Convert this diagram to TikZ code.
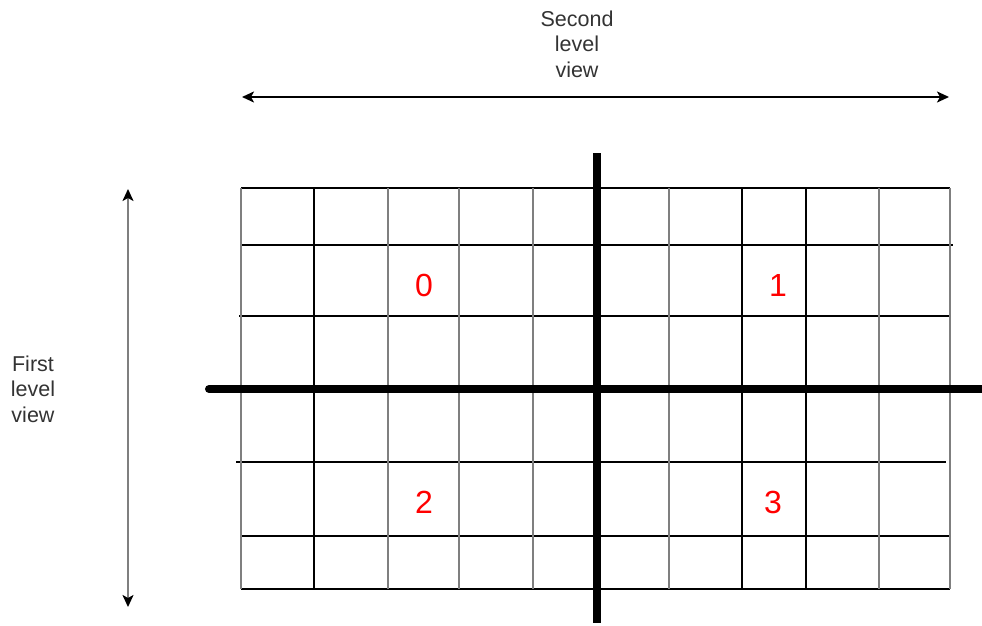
\documentclass[tikz,border=0pt]{standalone}
\usepackage{fontspec}
\setmainfont{Liberation Sans}
\usetikzlibrary{arrows.meta}
\definecolor{gridgray}{HTML}{7F7F7F}
\definecolor{txtgray}{HTML}{333333}
\tikzset{
  gline/.style={draw=black, line width=1.4pt},
  gvert/.style={draw=gridgray, line width=1.8pt},
  bvert/.style={draw=black, line width=1.3pt},
  thick axis/.style={draw=black, line width=8pt},
  lbl/.style={text=txtgray, font=\fontsize{21.5}{25.5}\selectfont, align=center, inner sep=0pt},
  quad/.style={text=red, font=\fontsize{32}{34}\selectfont, inner sep=0pt},
  dim arrow/.style={line width=2pt, {Stealth[length=12pt,width=11pt,inset=3pt,black]}-{Stealth[length=12pt,width=11pt,inset=3pt,black]}}
}
\begin{document}
\begin{tikzpicture}[x=1pt,y=-1pt]
\useasboundingbox (0,0) rectangle (982,626);
% horizontal grid lines
\draw[gline] (241,188) -- (950,188);
\draw[gline] (241,245) -- (953,245);
\draw[gline] (239,316) -- (950,316);
\draw[gline] (236,462) -- (946,462);
\draw[gline] (241,536) -- (950,536);
\draw[gline] (241,589) -- (950,589);
% vertical grid lines
\foreach \x in {241,388,459,533,669,879,950} \draw[gvert] (\x,188) -- (\x,589);
\foreach \x in {314,742,806} \draw[bvert] (\x,188) -- (\x,589);
% thick axes
\draw[thick axis] (597,153) -- (597,623);
\draw[thick axis, line cap=round] (209,389) -- (982,389);
% dimension arrows
\coordinate (tl) at (242,97);
\coordinate (tr) at (949,97);
\draw[dim arrow, draw=black] (tl) -- (tr);
\coordinate (lt) at (128,189);
\coordinate (lb) at (128,607);
\draw[dim arrow, draw=gridgray] (lt) -- (lb);
% labels
\node[lbl] (second) at (577,44) {Second\\level\\view};
\node[lbl] (first) at (33,389) {First\\level\\view};
% quadrant numbers
\node[quad] (q0) at (424,285) {0};
\node[quad] (q1) at (778,285) {1};
\node[quad] (q2) at (424,502) {2};
\node[quad] (q3) at (773,502) {3};
\end{tikzpicture}
\end{document}
